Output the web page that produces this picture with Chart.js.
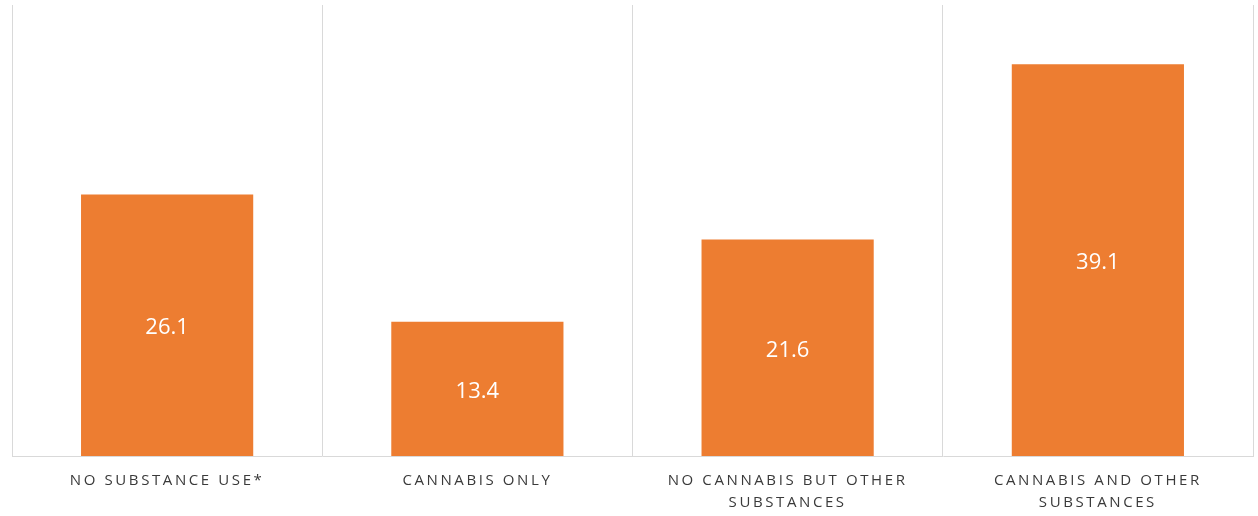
<html>
<head>
    <script type="text/javascript" src="https://cdn.jsdelivr.net/npm/chart.js@4/dist/chart.umd.min.js"></script>
    <style>
        body { margin: 0; background: #fff; }
        #box { width: 1258px; height: 516px; }
    </style>
</head>
<body>
    <div id="box"><canvas id="useGraph"></canvas></div>
<script type="text/javascript">
    // categorias e valores
    const categorias = [
        'NO SUBSTANCE USE*',
        'CANNABIS ONLY',
        ['NO CANNABIS BUT OTHER', 'SUBSTANCES'],
        ['CANNABIS AND OTHER', 'SUBSTANCES']
    ];
    const valores = [26.1, 13.4, 21.6, 39.1];

    // escreve o valor no meio de cada barra
    const valorNaBarra = {
        id: 'valorNaBarra',
        afterDatasetsDraw(chart) {
            const ctx = chart.ctx;
            const meta = chart.getDatasetMeta(0);
            ctx.save();
            ctx.letterSpacing = '0px';
            ctx.fillStyle = '#ffffff';
            ctx.font = '22px "Open Sans"';
            ctx.textAlign = 'center';
            ctx.textBaseline = 'middle';
            meta.data.forEach(function (bar, i) {
                ctx.fillText(valores[i].toFixed(1), bar.x, (bar.y + bar.base) / 2 + 3);
            });
            ctx.restore();
        }
    };

    const espacamento = {
        id: 'espacamento',
        beforeDraw(chart) { chart.ctx.letterSpacing = '2.6px'; }
    };

    var ctx = document.getElementById('useGraph').getContext('2d');
    var useGraph = new Chart(ctx, {
        type: 'bar',
        data: {
            labels: categorias,
            datasets: [{
                data: valores,
                backgroundColor: '#ED7D31',
                categoryPercentage: 1,
                barPercentage: 0.555
            }]
        },
        options: {
            responsive: true,
            maintainAspectRatio: false,
            animation: false,
            layout: { padding: { left: 12, right: 5, top: 5, bottom: -11 } },
            plugins: { legend: { display: false }, tooltip: { enabled: false } },
            scales: {
                x: {
                    grid: { color: '#d9d9d9', drawTicks: false, offset: true },
                    border: { color: '#d9d9d9' },
                    ticks: {
                        color: '#3a3a3a',
                        font: { family: '"Open Sans"', size: 15, lineHeight: 1.5 },
                        padding: 13,
                        maxRotation: 0,
                        autoSkip: false
                    }
                },
                y: {
                    display: false,
                    min: 0,
                    max: 45
                }
            }
        },
        plugins: [espacamento, valorNaBarra]
    });
</script>
</body>
</html>
